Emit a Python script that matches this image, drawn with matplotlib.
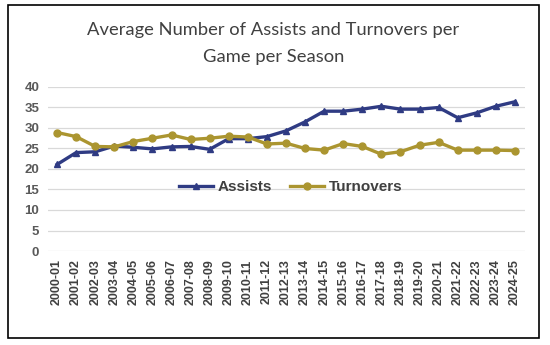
import matplotlib.pyplot as plt
from matplotlib.patches import Rectangle

seasons = ['2000-01', '2001-02', '2002-03', '2003-04', '2004-05', '2005-06',
           '2006-07', '2007-08', '2008-09', '2009-10', '2010-11', '2011-12',
           '2012-13', '2013-14', '2014-15', '2015-16', '2016-17', '2017-18',
           '2018-19', '2019-20', '2020-21', '2021-22', '2022-23', '2023-24',
           '2024-25']
assists = [21.1, 24.0, 24.2, 25.6, 25.3, 24.9, 25.4, 25.5, 24.8, 27.4, 27.4, 27.9,
           29.3, 31.5, 34.1, 34.1, 34.6, 35.3, 34.6, 34.6, 35.0, 32.5, 33.7, 35.3,
           36.4]
turnovers = [28.9, 27.9, 25.5, 25.4, 26.7, 27.5, 28.3, 27.2, 27.5, 28.0, 27.8, 26.1,
             26.3, 25.0, 24.6, 26.2, 25.5, 23.6, 24.2, 25.8, 26.5, 24.6, 24.6, 24.6,
             24.5]
yticks = [0, 5, 10, 15, 20, 25, 30, 35, 40]

plt.rcParams['font.family'] = ['Liberation Sans', 'DejaVu Sans']

fig = plt.figure(figsize=(5.5, 3.45), dpi=100)
ax = fig.add_axes([47.5/550, 1-251/345, 477/550, 164/345])

x = range(len(seasons))
ax.plot(x, assists, color='#2f3b83', lw=2.4, marker='^', ms=5, label='Assists', zorder=3)
ax.plot(x, turnovers, color='#ab9530', lw=2.4, marker='o', ms=5, label='Turnovers', zorder=3)

ax.set_xlim(-0.5, len(seasons)-0.5)
ax.set_ylim(0, 40)
ax.set_yticks(yticks)
ax.set_yticklabels([str(v) for v in yticks], fontsize=9.5, fontweight='bold', color='#595959')
ax.set_xticks(list(x))
ax.set_xticklabels(seasons, rotation=90, fontsize=9, fontweight='bold', color='#404040')
ax.tick_params(length=0, pad=6)
ax.grid(axis='y', color='#d9d9d9', lw=0.9)
ax.set_axisbelow(True)
for s in ax.spines.values():
    s.set_visible(False)

leg = ax.legend(loc='center', bbox_to_anchor=(0.51, 0.39), ncol=2, frameon=False,
                prop={'weight': 'bold', 'size': 11}, handlelength=2.2,
                columnspacing=1.2, handletextpad=0.3)
for t in leg.get_texts():
    t.set_color('#404040')

fig.text(0.497, 1-30/345, 'Average Number of Assists and Turnovers per',
         ha='center', va='center', fontsize=13.2, color='#404040', family='Lato')
fig.text(0.497, 1-57/345, 'Game per Season',
         ha='center', va='center', fontsize=13.2, color='#404040', family='Lato')

fig.patches.append(Rectangle((8/550, 1-338/345), 531/550, 333/345, transform=fig.transFigure,
                             fill=False, edgecolor='black', lw=1.2))

fig.savefig('out.png', dpi=100)
